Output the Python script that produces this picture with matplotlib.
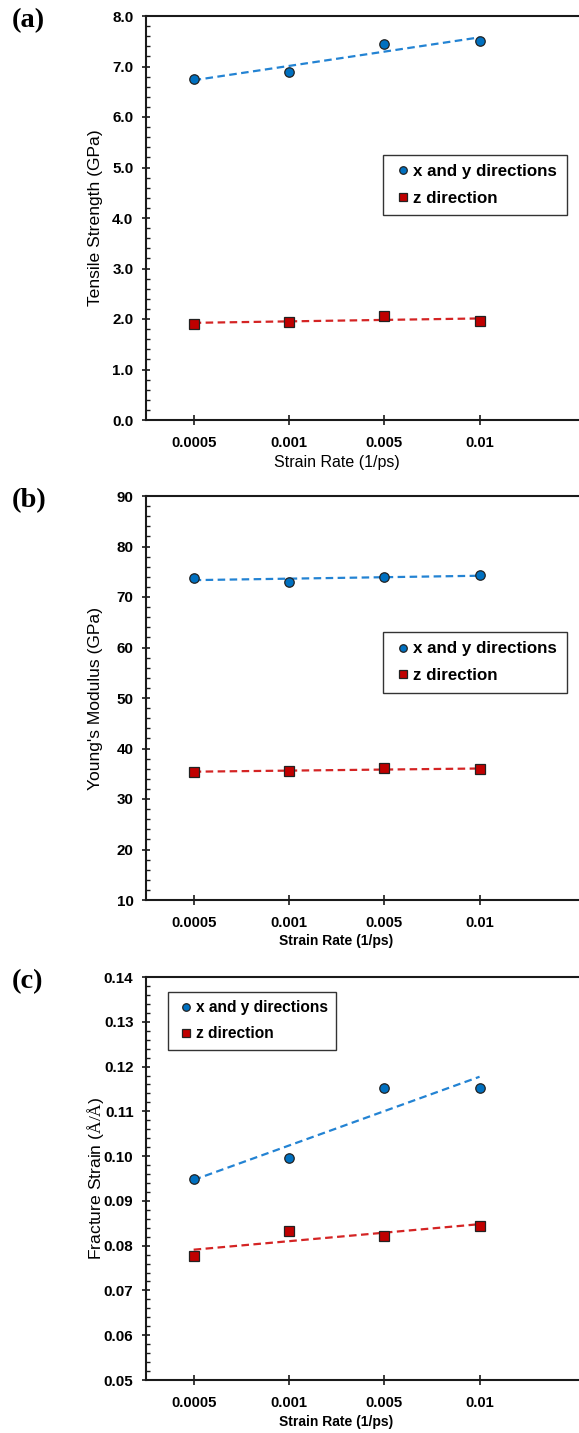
import numpy as np
import matplotlib
matplotlib.use("Agg")
import matplotlib.pyplot as plt
from matplotlib.ticker import MultipleLocator

plt.rcParams['font.family'] = ['Liberation Sans', 'DejaVu Sans']
plt.rcParams['mathtext.fontset'] = 'custom'
plt.rcParams['mathtext.rm'] = 'Liberation Serif'

# Strain-rate categories
rates = ['0.0005', '0.001', '0.005', '0.01']

# (a) tensile strength, GPa
ts_xy = [6.75, 6.90, 7.45, 7.51]
ts_z = [1.91, 1.94, 2.05, 1.97]

# (b) Young's modulus, GPa
ym_xy = [73.8, 72.9, 74.0, 74.4]
ym_z = [35.4, 35.5, 36.1, 35.9]

# (c) fracture strain, Å/Å
fs_xy = [0.0948, 0.0996, 0.1152, 0.1152]
fs_z = [0.0778, 0.0833, 0.0822, 0.0845]

series_labels = ['x and y directions', 'z direction']

BLUE_FILL, BLUE_LINE = '#0070C0', '#2383D3'
RED_FILL, RED_LINE = '#C00000', '#D42424'
AXIS_COLOR = '#1a1a1a'

fig = plt.figure(figsize=(5.79, 14.33), dpi=100)
W, H = 579.0, 1433.0

def axes_at(top_px, bottom_px):
    left = 146 / W
    width = 476.5 / W
    return fig.add_axes([left, 1 - bottom_px / H, width, (bottom_px - top_px) / H])

panels = [
    dict(top=16, bottom=420, xy=ts_xy, z=ts_z, ylim=(0, 8), major=1.0, minor=0.2,
         fmt='{:.1f}', ylabel='Tensile Strength (GPa)', tag='(a)',
         xlabel_kw=dict(fontsize=11.5, fontweight='normal'), xlabel_y=-0.106,
         leg_anchor=(0.497, 0.656), leg_fs=12.2),
    dict(top=496, bottom=900, xy=ym_xy, z=ym_z, ylim=(10, 90), major=10, minor=2,
         fmt='{:.0f}', ylabel="Young's Modulus (GPa)", tag='(b)',
         xlabel_kw=dict(fontsize=10, fontweight='bold'), xlabel_y=-0.1015,
         leg_anchor=(0.497, 0.663), leg_fs=12.2),
    dict(top=977, bottom=1380, xy=fs_xy, z=fs_z, ylim=(0.05, 0.14), major=0.01, minor=0.002,
         fmt='{:.2f}', ylabel=r'Fracture Strain ($\mathrm{Å/Å}$)', tag='(c)',
         xlabel_kw=dict(fontsize=10, fontweight='bold'), xlabel_y=-0.103,
         leg_anchor=(0.046, 0.963), leg_fs=11.2),
]

x = np.arange(1, len(rates) + 1)

for p in panels:
    ax = axes_at(p['top'], p['bottom'])
    ax.set_xlim(0.5, 5.5)
    ax.set_ylim(*p['ylim'])

    for vals, fill, line, marker, ms, lab in [
        (p['xy'], BLUE_FILL, BLUE_LINE, 'o', 6.8, series_labels[0]),
        (p['z'], RED_FILL, RED_LINE, 's', 6.8, series_labels[1]),
    ]:
        vals = np.asarray(vals)
        k, b = np.polyfit(x, vals, 1)
        ax.plot(x, k * x + b, color=line, lw=1.6, dashes=(3.4, 2.0), zorder=2)
        ax.plot(x, vals, ls='none', marker=marker, ms=ms, mfc=fill, mec='#222222',
                mew=0.9, label=lab, zorder=3)

    ax.spines['right'].set_visible(False)
    for side in ('left', 'bottom', 'top'):
        ax.spines[side].set_linewidth(1.5)
        ax.spines[side].set_color(AXIS_COLOR)

    ax.set_xticks(x)
    ax.set_xticklabels(rates, fontsize=10.7, fontweight='bold')
    ax.tick_params(axis='x', direction='inout', length=7, width=1.2, pad=8, color=AXIS_COLOR)

    ax.yaxis.set_major_locator(MultipleLocator(p['major']))
    ax.yaxis.set_minor_locator(MultipleLocator(p['minor']))
    yt = np.arange(p['ylim'][0], p['ylim'][1] + p['major'] / 2, p['major'])
    ax.set_yticks(yt)
    ax.set_yticklabels([p['fmt'].format(v) for v in yt], fontsize=10.9, fontweight='bold')
    ax.tick_params(axis='y', which='major', direction='inout', length=6, width=1.2,
                   pad=6, color=AXIS_COLOR)
    ax.tick_params(axis='y', which='minor', direction='in', length=3, width=1.0,
                   color=AXIS_COLOR)

    ax.set_xlabel('Strain Rate (1/ps)', **p['xlabel_kw'])
    ax.xaxis.set_label_coords(0.4, p['xlabel_y'])
    ax.xaxis.label.set_va('center')

    ax.set_ylabel(p['ylabel'], fontsize=12.6)
    ax.yaxis.set_label_coords(-0.107, 0.5)
    ax.yaxis.label.set_va('center')

    leg = ax.legend(loc='upper left', bbox_to_anchor=p['leg_anchor'], borderaxespad=0,
                    fancybox=False, frameon=True, edgecolor='#333333', framealpha=1,
                    handlelength=1.25, handletextpad=0.0, borderpad=0.55,
                    labelspacing=0.7, markerscale=0.8,
                    prop=dict(family='Liberation Sans', weight='bold', size=p['leg_fs']))
    leg.get_frame().set_linewidth(1.0)

    fig.text(12 / W, 1 - (p['top'] + 5) / H, p['tag'], family='Liberation Serif',
             fontweight='bold', fontsize=20.5, ha='left', va='center')

fig.savefig('out.png', dpi=100)
